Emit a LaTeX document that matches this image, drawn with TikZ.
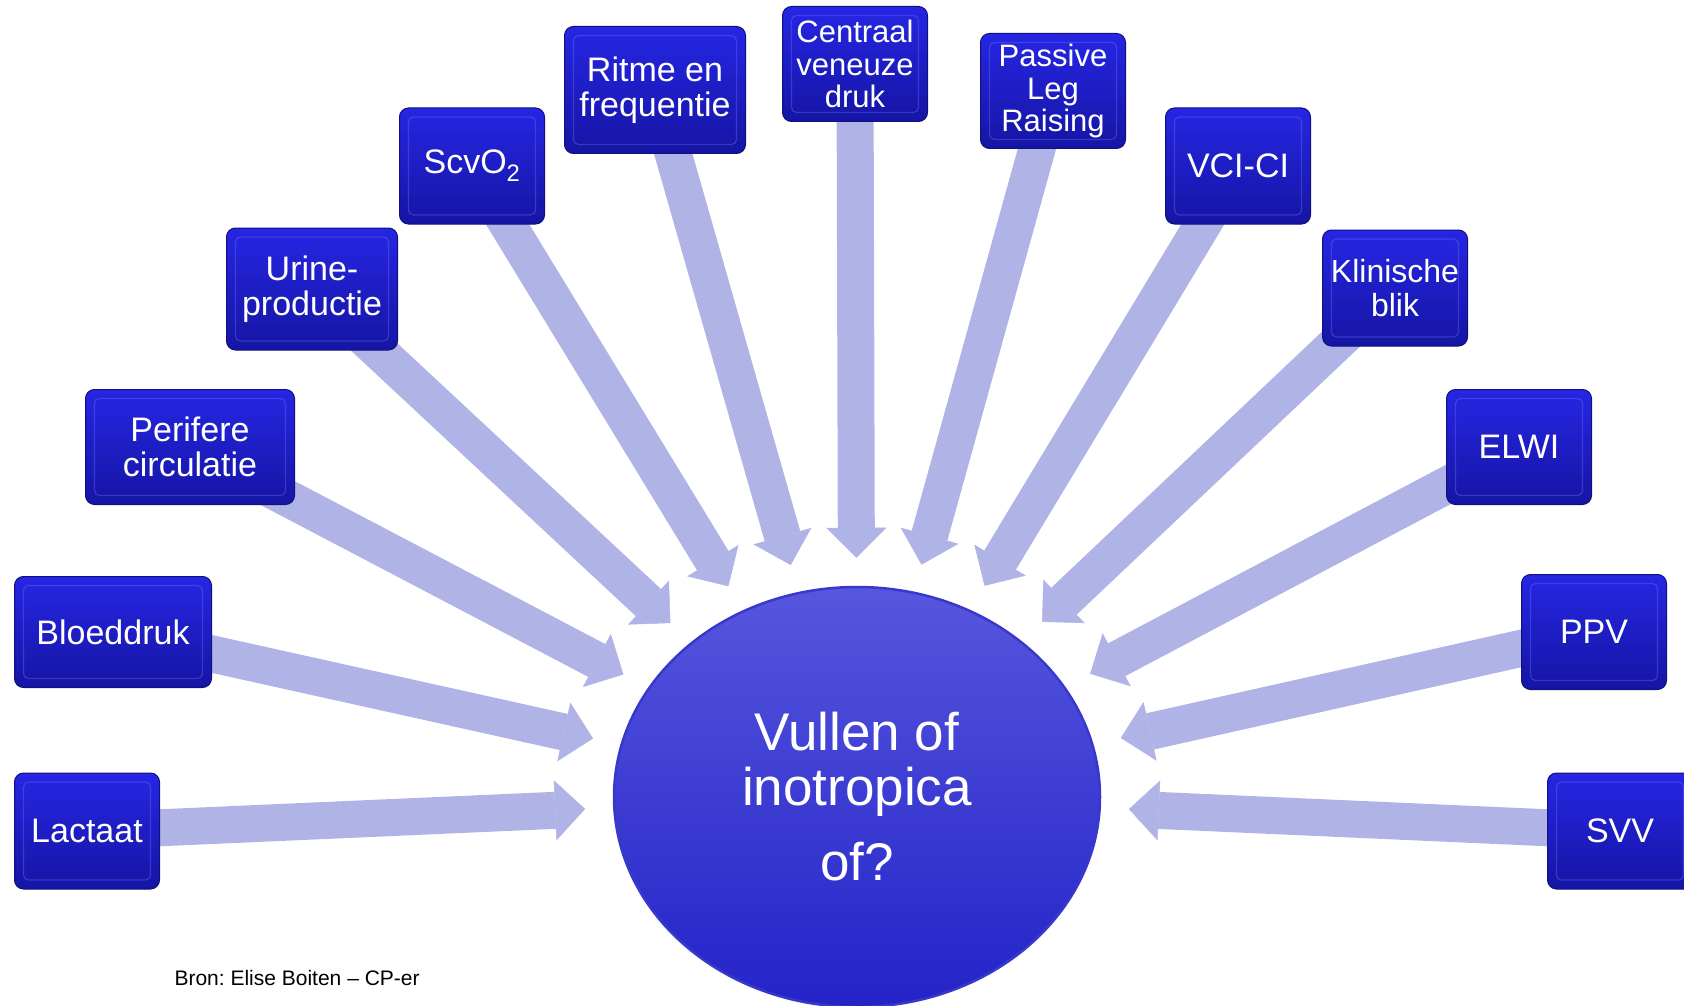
\documentclass[tikz,border=0pt]{standalone}
\usepackage{fontspec}
\setmainfont{Liberation Sans}
\usepackage{tikz}
\usepackage{xcolor}
\usetikzlibrary{arrows.meta,shapes.geometric,backgrounds}
\definecolor{tiletop}{HTML}{2626E4}
\definecolor{tilebot}{HTML}{1515A4}
\definecolor{tileedge}{HTML}{10107E}
\definecolor{tilerim}{HTML}{6A6AF2}
\definecolor{hubtop}{HTML}{5656DE}
\definecolor{hubbot}{HTML}{2323C8}
\definecolor{hubedge}{HTML}{3838CC}
\definecolor{feedlav}{HTML}{B0B3E6}
\frenchspacing

\begin{document}
\begin{tikzpicture}[x=1pt,y=-1pt,
  tile/.style={rectangle,rounded corners=9pt,draw=tileedge,line width=1pt,
    top color=tiletop,bottom color=tilebot,text=white,align=center,
    font=\fontsize{34}{35}\selectfont,minimum width=145pt,minimum height=116pt,inner sep=2pt,
    path picture={\draw[tilerim,line width=1.2pt,rounded corners=5pt,opacity=0.4]
      ([xshift=9pt,yshift=-9pt]path picture bounding box.north west) rectangle
      ([xshift=-9pt,yshift=9pt]path picture bounding box.south east);}},
  tall/.style={font=\fontsize{31}{32.5}\selectfont},
  hub/.style={ellipse,draw=hubedge,line width=2.5pt,top color=hubtop,bottom color=hubbot,
    text=white,align=center,font=\fontsize{53}{55}\selectfont,
    minimum width=486pt,minimum height=420pt,inner sep=0pt},
  feed/.style={feedlav,line width=37pt,
    -{Triangle[length=30pt,width=60pt,line width=0.5pt]},shorten >=28pt}]
  \useasboundingbox (0,0) rectangle (1684,1006);

  % centre
  \node[hub] (hub) at (857,797) {Vullen of\\inotropica\\[20pt]of?};

  % left side
  \node[tile] (lac) at (87,831) {Lactaat};
  \node[tile,minimum width=197pt,minimum height=111pt] (rr) at (113,632) {Bloeddruk};
  \node[tile,minimum width=209pt,minimum height=115pt] (perif) at (190,447) {Perifere\\circulatie};
  \node[tile,minimum width=171pt,minimum height=122pt] (urine) at (312,289) {Urine-\\productie};
  \node[tile] (scv) at (472,166) {ScvO\textsubscript{2}};
  \node[tile,minimum width=181pt,minimum height=127pt] (ritme) at (655,90) {Ritme en\\frequentie};
  \node[tile,tall,minimum height=115pt] (cvd) at (855,64) {Centraal\\veneuze\\druk};

  % right side
  \node[tile,tall,minimum height=115pt] (plr) at (1053,91) {Passive\\Leg\\Raising};
  \node[tile] (vci) at (1238,166) {VCI-CI};
  \node[tile,font=\fontsize{32}{34}\selectfont] (blik) at (1395,288) {Klinische\\blik};
  \node[tile,minimum height=115pt] (elwi) at (1519,447) {ELWI};
  \node[tile,minimum height=115pt] (ppv) at (1594,632) {PPV};
  \node[tile] (svv) at (1620,831) {SVV};

  \begin{scope}[on background layer]
    \foreach \src in {lac,rr,perif,urine,scv,ritme,cvd,plr,vci,blik,elwi,ppv,svv}
      \draw[feed] (\src.center) -- (hub);
  \end{scope}

  \node[anchor=base west,font=\fontsize{21}{25}\selectfont] (bron) at (171,985)
    {Bron: Elise Boiten \textendash{} CP-er};
\end{tikzpicture}
\end{document}
